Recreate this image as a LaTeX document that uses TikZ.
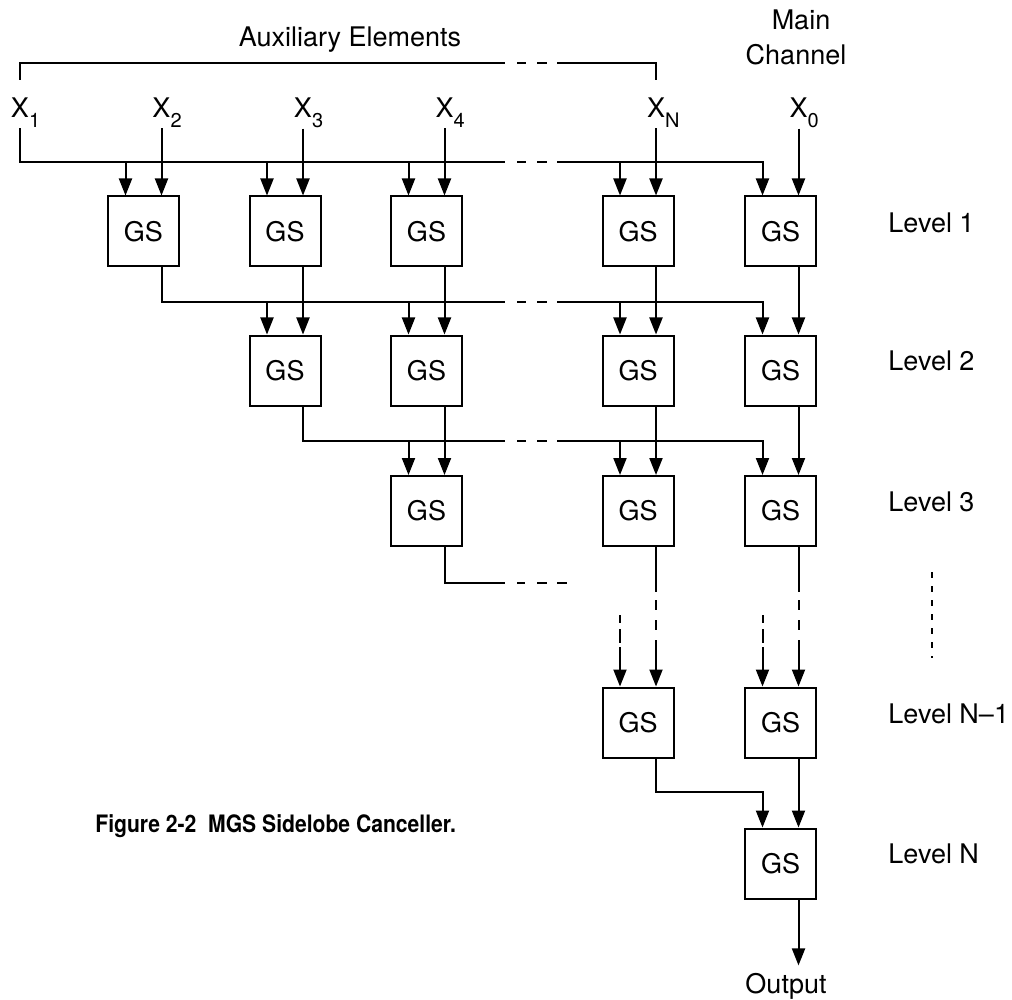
\documentclass[tikz,border=0pt]{standalone}
\usepackage{fontspec}
\setmainfont{TeX Gyre Heros}
\usetikzlibrary{arrows.meta}
\newcommand{\xsub}[2]{#1\rlap{\raisebox{-5pt}{\fontsize{10}{10}\selectfont #2}}}
\begin{document}
\begin{tikzpicture}[x=0.5pt,y=-0.5pt,
  every node/.style={font=\fontsize{13.5}{16}\selectfont},
  gs/.style={draw, line width=1pt, minimum width=35.5pt, minimum height=35pt, inner sep=0pt},
  wire/.style={line width=1pt},
  arr/.style={wire, -{Triangle[length=8.5pt,width=6.5pt]}},
  gapdash/.style={wire, dash pattern=on 0pt off 6pt on 4.5pt off 5.5pt on 5pt off 20pt},
  enddash/.style={wire, dash pattern=on 0pt off 6pt on 4pt off 6pt on 5pt off 5pt on 5pt off 20pt},
  vdash/.style={wire, dash pattern=on 0pt off 4pt on 5pt off 5pt on 5pt off 20pt},
  indash/.style={wire, dash pattern=on 4pt off 3pt on 7pt off 20pt},
  lab/.style={anchor=base, inner sep=0pt},
  lvl/.style={anchor=base west, inner sep=0pt},
]
\useasboundingbox (0,0) rectangle (1012,1000);

% GS boxes and their ports
\foreach \n/\x/\y in {11/143.5/231.5, 12/285/231.5, 13/426.5/231.5, 1N/638/231.5, 10/780.5/231.5,
                      22/285/370.5, 23/426.5/370.5, 2N/638/370.5, 20/780.5/370.5,
                      33/426.5/511, 3N/638/511, 30/780.5/511,
                      mN/638/722.5, m0/780.5/722.5,
                      N0/780.5/863.5} {
  \node[gs] (g\n) at (\x,\y) {GS};
  \coordinate (l\n) at ([xshift=-9pt]g\n.north);
  \coordinate (r\n) at ([xshift=9pt]g\n.north);
  \coordinate (o\n) at ([xshift=9pt]g\n.south);
}

% headings
\node[lab] (aux) at (350,47) {Auxiliary Elements};
\node[lab] (main) at (801,30) {Main};
\node[lab] (chan) at (796,65) {Channel};

% bracket over the auxiliary elements
\coordinate (brl) at (20,80);
\coordinate (brr) at (656,80);
\coordinate (bra) at (505,63);
\coordinate (brb) at (557,63);
\draw[wire] (brl) |- (bra);
\draw[gapdash] (bra) -- (brb);
\draw[wire] (brb) -| (brr);

% inputs
\node[lab] (X1) at (20,118) {\xsub{X}{1}};
\node[lab] (X2) at (161.5,118) {\xsub{X}{2}};
\node[lab] (X3) at (303,118) {\xsub{X}{3}};
\node[lab] (X4) at (444.5,118) {\xsub{X}{4}};
\node[lab] (XN) at (656,118) {\xsub{X}{N}};
\node[lab] (X0) at (798.5,118) {\xsub{X}{0}};

% level 1
\coordinate (b1a) at (505,162);
\coordinate (b1b) at (557,162);
\draw[wire] (X1.south) |- (b1a);
\draw[gapdash] (b1a) -- (b1b);
\draw[arr] (b1b) -| (l10);
\foreach \n in {11,12,13,1N} { \draw[arr] (l\n |- b1a) -- (l\n); }
\draw[arr] (X2.south) -- (r11);
\draw[arr] (X3.south) -- (r12);
\draw[arr] (X4.south) -- (r13);
\draw[arr] (XN.south) -- (r1N);
\draw[arr] (X0.south) -- (r10);

% level 2
\coordinate (b2a) at (505,302);
\coordinate (b2b) at (557,302);
\draw[wire] (o11) |- (b2a);
\draw[gapdash] (b2a) -- (b2b);
\draw[arr] (b2b) -| (l20);
\foreach \n in {22,23,2N} { \draw[arr] (l\n |- b2a) -- (l\n); }
\draw[arr] (o12) -- (r22);
\draw[arr] (o13) -- (r23);
\draw[arr] (o1N) -- (r2N);
\draw[arr] (o10) -- (r20);

% level 3
\coordinate (b3a) at (505,441);
\coordinate (b3b) at (557,441);
\draw[wire] (o22) |- (b3a);
\draw[gapdash] (b3a) -- (b3b);
\draw[arr] (b3b) -| (l30);
\foreach \n in {33,3N} { \draw[arr] (l\n |- b3a) -- (l\n); }
\draw[arr] (o23) -- (r33);
\draw[arr] (o2N) -- (r3N);
\draw[arr] (o20) -- (r30);

% level 3 -> continuation
\coordinate (b4a) at (505,583);
\coordinate (b4b) at (567,583);
\draw[wire] (o33) |- (b4a);
\draw[enddash] (b4a) -- (b4b);

% vertical continuation to level N-1
\coordinate (e1) at (0,592);
\coordinate (e2) at (0,640);
\coordinate (d1) at (0,615);
\coordinate (d2) at (0,647);
\foreach \a/\b in {3N/mN, 30/m0} {
  \draw[wire] (o\a) -- (o\a |- e1);
  \draw[vdash] (o\a |- e1) -- (o\a |- e2);
  \draw[arr] (o\a |- e2) -- (r\b);
  \draw[indash] (l\b |- d1) -- (l\b |- d2);
  \draw[arr] (l\b |- d2) -- (l\b);
}

% level N
\coordinate (kN) at (0,792);
\draw[arr] (omN) -- (omN |- kN) -| (lN0);
\draw[arr] (om0) -- (rN0);

% output
\node[lab, inner sep=3.5pt] (out) at (786,993) {Output};
\draw[arr] (oN0) -- (oN0 |- out.north);

% level labels
\node[lvl] (lv1) at (888,233) {Level 1};
\node[lvl] (lv2) at (888,371) {Level 2};
\node[lvl] (lv3) at (888,511.5) {Level 3};
\node[lvl] (lvm) at (888,723) {Level N\textendash1};
\node[lvl] (lvn) at (888,863) {Level N};
\coordinate (dv1) at (932,572);
\coordinate (dv2) at (932,658);
\draw[line width=0.8pt, dash pattern=on 3pt off 4pt] (dv1) -- (dv2);

% caption
\node[anchor=base west, inner sep=0pt, font=\bfseries\fontsize{12}{14}\selectfont] (cap) at (95,832) {\scalebox{0.88}[1]{Figure 2-2\ \ MGS Sidelobe Canceller.}};
\end{tikzpicture}
\end{document}
